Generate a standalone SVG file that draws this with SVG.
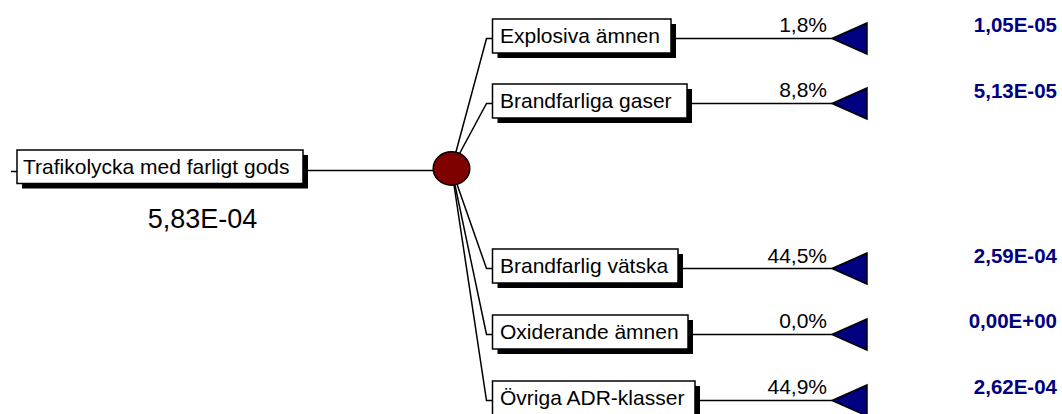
<svg xmlns="http://www.w3.org/2000/svg" width="1062" height="414" viewBox="0 0 1062 414">
  <style>
    .box { fill: #ffffff; stroke: #000000; stroke-width: 1.5; }
    .shadow { fill: #000000; }
    .lbl { font-family: "Liberation Sans", Arial, sans-serif; font-size: 21px; fill: #000000; }
    .pct { font-family: "Liberation Sans", Arial, sans-serif; font-size: 21px; fill: #000000; text-anchor: end; }
    .val { font-family: "Liberation Sans", Arial, sans-serif; font-size: 20.5px; font-weight: bold; fill: #000080; text-anchor: end; }
    .big { font-family: "Liberation Sans", Arial, sans-serif; font-size: 27px; fill: #000000; text-anchor: middle; }
    .wire { fill: none; stroke: #000000; stroke-width: 1.5; }
    .end { fill: #000080; stroke: #000000; stroke-width: 1.5; stroke-linejoin: miter; }
    .chance { fill: #800000; stroke: #000000; stroke-width: 1.5; }
  </style>

  <!-- connectors -->
  <g id="connectors">
    <path class="wire" d="M11 171.5 H17"/>
    <path class="wire" d="M303 170.5 H434"/>
    <path class="wire" d="M451.5 168.5 L486.5 38.5 H492.5"/>
    <path class="wire" d="M451.5 168.5 L486.5 103.5 H492.5"/>
    <path class="wire" d="M451.5 168.5 L486.5 268.5 H492.5"/>
    <path class="wire" d="M451.5 168.5 L486.5 334.5 H492.5"/>
    <path class="wire" d="M451.5 168.5 L486.5 400.5 H492.5"/>
    <path class="wire" d="M671 38.5 H832"/>
    <path class="wire" d="M687 103.5 H832"/>
    <path class="wire" d="M678 268.5 H832"/>
    <path class="wire" d="M688 334.5 H832"/>
    <path class="wire" d="M695 400.5 H832"/>
  </g>

  <!-- root decision -->
  <g id="root">
    <rect class="shadow" x="22" y="155" width="286" height="33.5"/>
    <rect class="box" x="17" y="150" width="286" height="33.5"/>
    <text class="lbl" x="23" y="174">Trafikolycka med farligt gods</text>
    <text class="big" x="202.5" y="228">5,83E-04</text>
  </g>

  <!-- chance node -->
  <g id="chance">
    <ellipse class="chance" cx="451.5" cy="168.5" rx="18.3" ry="16.7"/>
  </g>

  <g id="explosiva">
    <rect class="shadow" x="497.5" y="24" width="178.5" height="34"/>
    <rect class="box" x="492.5" y="19" width="178.5" height="34"/>
    <text class="lbl" x="500" y="42.5">Explosiva ämnen</text>
    <text class="pct" x="827" y="32">1,8%</text>
    <polygon class="end" points="832,38.5 867,23 867,54"/>
    <text class="val" x="1057" y="32">1,05E-05</text>
  </g>

  <g id="gaser">
    <rect class="shadow" x="497.5" y="89" width="194.5" height="34"/>
    <rect class="box" x="492.5" y="84" width="194.5" height="34"/>
    <text class="lbl" x="500" y="107.5">Brandfarliga gaser</text>
    <text class="pct" x="827" y="97">8,8%</text>
    <polygon class="end" points="832,103.5 867,88 867,119"/>
    <text class="val" x="1057" y="97.5">5,13E-05</text>
  </g>

  <g id="vatska">
    <rect class="shadow" x="497.5" y="254" width="185.5" height="34"/>
    <rect class="box" x="492.5" y="249" width="185.5" height="34"/>
    <text class="lbl" x="500" y="272.5">Brandfarlig vätska</text>
    <text class="pct" x="827" y="263">44,5%</text>
    <polygon class="end" points="832,268.5 867,253 867,284"/>
    <text class="val" x="1057" y="263">2,59E-04</text>
  </g>

  <g id="oxiderande">
    <rect class="shadow" x="497.5" y="320" width="195.5" height="34"/>
    <rect class="box" x="492.5" y="315" width="195.5" height="34"/>
    <text class="lbl" x="500" y="338.5">Oxiderande ämnen</text>
    <text class="pct" x="827" y="328">0,0%</text>
    <polygon class="end" points="832,334.5 867,319 867,350"/>
    <text class="val" x="1057" y="328">0,00E+00</text>
  </g>

  <g id="ovriga">
    <rect class="shadow" x="497.5" y="386" width="202.5" height="34"/>
    <rect class="box" x="492.5" y="381" width="202.5" height="34"/>
    <text class="lbl" x="500" y="404.5">Övriga ADR-klasser</text>
    <text class="pct" x="827" y="393.5">44,9%</text>
    <polygon class="end" points="832,400.5 867,385 867,416"/>
    <text class="val" x="1057" y="393.5">2,62E-04</text>
  </g>
</svg>
